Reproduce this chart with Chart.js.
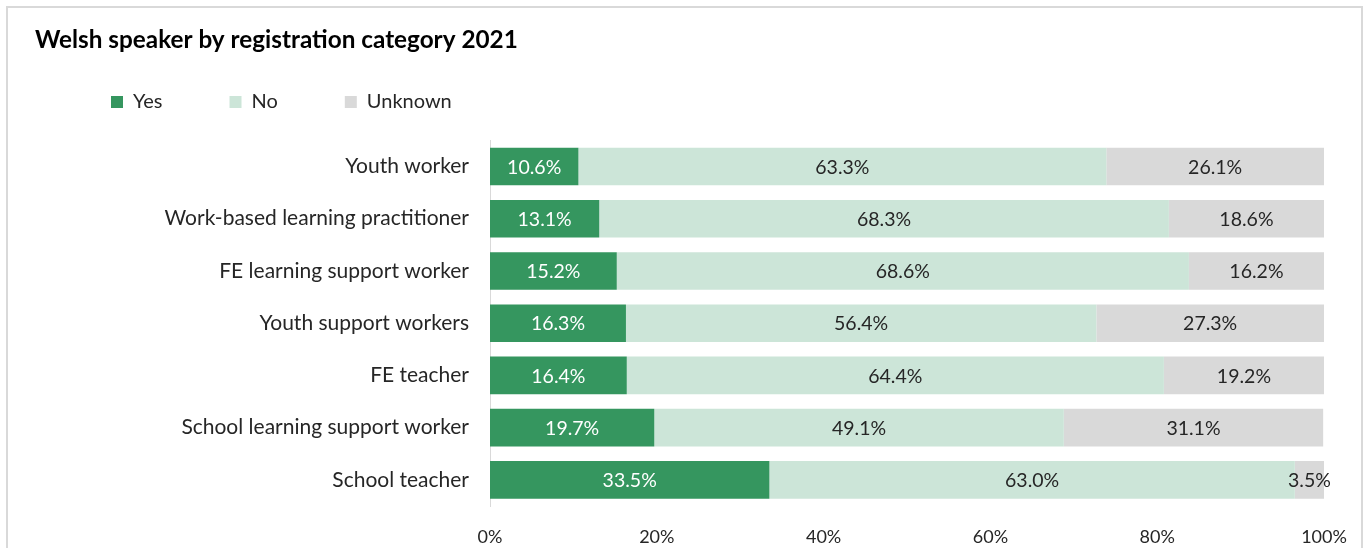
<!DOCTYPE html>
<html>
<head>
<meta charset="utf-8">
<script src="https://cdn.jsdelivr.net/npm/chart.js@4"></script>
<style>
  html, body { margin: 0; padding: 0; background: #fff; overflow: hidden; }
  #frame { position: absolute; left: 6px; top: 6px; width: 1357px; height: 600px; border: 2px solid #d9d9d9; box-sizing: border-box; }
  #wrap { position: absolute; left: 0; top: 0; width: 1370px; height: 548px; }
</style>
</head>
<body>
<div id="frame"></div>
<div id="wrap"><canvas id="myChart" width="1370" height="548"></canvas></div>
<script>
var categories = [
    'Youth worker',
    'Work-based learning practitioner',
    'FE learning support worker',
    'Youth support workers',
    'FE teacher',
    'School learning support worker',
    'School teacher'
];
var yesValues = [10.6, 13.1, 15.2, 16.3, 16.4, 19.7, 33.5];
var noValues = [63.3, 68.3, 68.6, 56.4, 64.4, 49.1, 63.0];
var unknownValues = [26.1, 18.6, 16.2, 27.3, 19.2, 31.1, 3.5];

var fontFamily = "Lato, 'Open Sans', sans-serif";
var legendPad = 67;
var legendFont = 20;

// draws the percentage in the middle of each bar piece
var barLabels = {
    id: 'barLabels',
    afterDatasetsDraw: function (chart) {
        var ctx = chart.ctx;
        ctx.save();
        ctx.font = '19.5px ' + fontFamily;
        ctx.textAlign = 'center';
        ctx.textBaseline = 'middle';
        chart.data.datasets.forEach(function (ds, i) {
            var meta = chart.getDatasetMeta(i);
            meta.data.forEach(function (bar, j) {
                var mid = (bar.x + bar.base) / 2;
                ctx.fillStyle = i === 0 ? '#ffffff' : '#262626';
                ctx.fillText(ds.data[j].toFixed(1) + '%', mid, bar.y + 1);
            });
        });
        ctx.restore();
    }
};

// move legend to where the original sits
var legendPlace = {
    id: 'legendPlace',
    afterLayout: function (chart) {
        chart.legend.left = 111 - legendPad;
        chart.legend.top = 102 - legendPad - legendFont / 2;
    }
};

var ctx = document.getElementById('myChart').getContext('2d');
var myChart = new Chart(ctx, {
    type: 'bar',
    data: {
        labels: categories,
        datasets: [
            { label: 'Yes', data: yesValues, backgroundColor: '#35965f', borderWidth: 0 },
            { label: 'No', data: noValues, backgroundColor: '#cce5d8', borderWidth: 0 },
            { label: 'Unknown', data: unknownValues, backgroundColor: '#d9d9d9', borderWidth: 0 }
        ]
    },
    options: {
        indexAxis: 'y',
        responsive: false,
        animation: false,
        layout: { padding: { left: 35, right: 46, top: 20, bottom: 0 } },
        plugins: {
            title: {
                display: true,
                text: 'Welsh speaker by registration category 2021',
                align: 'start',
                color: '#000000',
                font: { family: fontFamily, size: 24.3, weight: 'bold' },
                padding: { top: 5.6, bottom: -11.4 }
            },
            legend: {
                display: true,
                align: 'start',
                labels: {
                    boxWidth: 12,
                    boxHeight: 12,
                    padding: legendPad,
                    color: '#262626',
                    font: { family: fontFamily, size: legendFont }
                }
            },
            tooltip: { enabled: false }
        },
        scales: {
            x: {
                stacked: true,
                min: 0,
                max: 100,
                grid: { display: false, drawTicks: false },
                border: { display: false },
                ticks: {
                    stepSize: 20,
                    padding: 20,
                    color: '#262626',
                    font: { family: fontFamily, size: 18 },
                    callback: function (v) { return v + '%'; }
                },
                afterFit: function (scale) { scale.height = 42; }
            },
            y: {
                stacked: true,
                grid: { display: false, drawTicks: false },
                border: { display: true, color: '#d9d9d9', width: 1 },
                categoryPercentage: 0.835,
                barPercentage: 1,
                ticks: {
                    padding: 21,
                    color: '#262626',
                    font: { family: fontFamily, size: 21 }
                },
                afterFit: function (scale) { scale.width = 455; }
            }
        }
    },
    plugins: [barLabels, legendPlace]
});
</script>
</body>
</html>
